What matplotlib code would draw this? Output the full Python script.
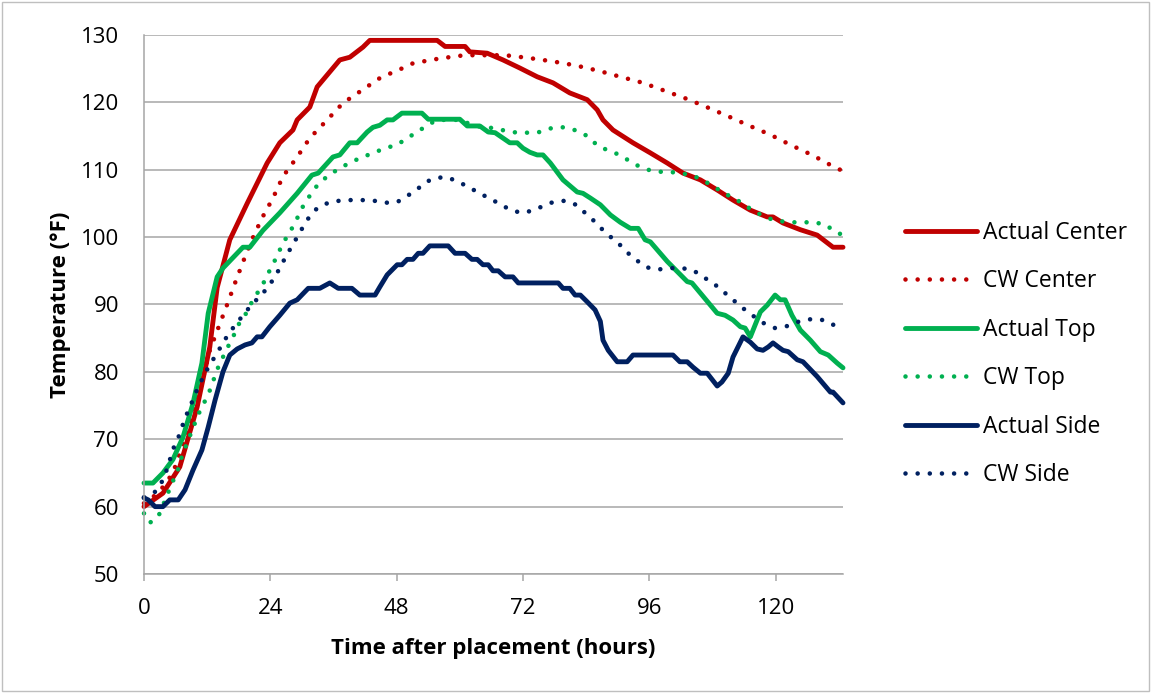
import matplotlib
matplotlib.use("Agg")
import matplotlib.pyplot as plt
from matplotlib.patches import Rectangle

plt.rcParams['font.family'] = ['Open Sans', 'DejaVu Sans']

# Measured temperatures and ConcreteWorks (CW) predictions, hours after placement vs °F
actual_center_h = [0, 3.6, 6.8, 10.1, 12.5, 13.9, 16.3, 19.6, 21.5, 23.4, 25.8, 28.3, 29.1, 31.5, 32.9,
                   37.2, 39.1, 41.6, 42.9, 55.7, 57.2, 61.0, 61.9, 65.2, 68.2, 71.4, 74.7, 77.7, 80.9,
                   84.2, 86.1, 87.2, 89.1, 92.9, 96.2, 99.4, 102.4, 105.7, 108.9, 111.9, 115.2, 118.4,
                   119.5, 121.4, 124.7, 127.9, 130.9, 132.8]
actual_center_t = [60, 62, 65.9, 74.8, 83.7, 92.5, 99.6, 105, 108, 111, 114, 115.9, 117.4, 119.3, 122.3,
                   126.3, 126.7, 128.2, 129.2, 129.2, 128.3, 128.3, 127.5, 127.3, 126.3, 125.1, 123.8,
                   122.9, 121.4, 120.4, 118.9, 117.4, 115.9, 114, 112.5, 111, 109.5, 108.5, 107, 105.5,
                   104, 103, 103, 102.1, 101.1, 100.3, 98.5, 98.5]

cw_center_h = [0, 1.7, 3.6, 5.5, 6.8, 7.8, 9.3, 10.6, 11.6, 12.5, 14.1, 15.8, 17.3, 18.8, 20.5, 22.4,
               24.5, 26.4, 29.1, 31.5, 34.8, 37.8, 41.4, 44.8, 47.1, 49.2, 51.1, 55.3, 59.7, 61.9, 68.6,
               73.0, 77.5, 81.9, 86.3, 90.5, 94.8, 99.0, 103.2, 107.2, 110.8, 114.8, 119.0, 122.8,
               126.9, 130.9, 132.8]
cw_center_t = [60.5, 61.4, 62.9, 65, 67.9, 69.9, 73.9, 77.3, 80.3, 83.2, 86.5, 90, 93.2, 96.3, 99.6,
               102.8, 105.8, 109, 111.9, 114.7, 117.4, 119.9, 121.8, 123.6, 124.4, 125.1, 125.8, 126.4,
               126.9, 127, 127, 126.6, 126.1, 125.5, 124.7, 123.8, 122.9, 121.7, 120.5, 119.2, 118,
               116.6, 115.2, 113.7, 112.2, 110.5, 109.8]

actual_top_h = [0, 1.7, 3.6, 5.5, 7.4, 9.3, 11.0, 12.2, 13.9, 15.0, 18.8, 20.1, 22.6, 25.8, 29.1, 31.9,
                33.1, 35.9, 37.2, 39.1, 40.5, 42.4, 43.5, 44.8, 46.2, 47.3, 49.0, 52.8, 54.0, 60.0, 61.4,
                63.8, 65.4, 66.7, 68.2, 69.5, 70.9, 72.0, 73.3, 74.7, 75.8, 77.2, 79.6, 82.3, 83.4, 84.8,
                86.7, 88.6, 90.5, 92.4, 93.9, 95.2, 96.2, 99.4, 103.2, 104.1, 108.9, 110.4, 111.9, 113.3,
                114.2, 115.2, 117.1, 118.4, 119.9, 120.9, 121.8, 123.1, 124.7, 126.6, 128.5, 130.0,
                131.7, 132.8]
actual_top_t = [63.5, 63.5, 65, 67, 70.3, 75.3, 81.3, 88.7, 94.1, 95.4, 98.5, 98.5, 101, 103.6, 106.5,
                109.2, 109.5, 111.9, 112.2, 114, 114, 115.6, 116.3, 116.6, 117.4, 117.4, 118.4, 118.4,
                117.5, 117.5, 116.5, 116.5, 115.6, 115.5, 114.7, 114, 114, 113.2, 112.6, 112.2, 112.2,
                111, 108.5, 106.7, 106.5, 105.8, 104.8, 103.3, 102.2, 101.3, 101.3, 99.6, 99.3, 96.4,
                93.4, 93.2, 88.7, 88.4, 87.7, 86.7, 86.5, 85.2, 88.9, 89.9, 91.4, 90.7, 90.7, 88.4, 86.2,
                84.7, 83, 82.5, 81.3, 80.6]

cw_top_h = [0, 1.1, 2.7, 4.4, 5.3, 6.3, 6.8, 8.4, 9.3, 10.1, 11.0, 12.0, 12.9, 13.5, 14.4, 15.4, 16.3,
            17.3, 18.2, 19.6, 20.5, 21.7, 23.0, 23.9, 24.9, 25.8, 26.8, 28.1, 29.1, 30.0, 31.2, 32.5,
            34.0, 35.7, 37.6, 39.5, 41.6, 43.9, 45.8, 48.1, 50.0, 51.9, 53.8, 55.7, 60.0, 61.9, 64.2,
            66.3, 68.6, 70.9, 73.0, 75.2, 77.5, 79.6, 81.5, 83.8, 86.5, 89.5, 91.4, 93.3, 95.2, 97.5,
            99.6, 101.9, 104.1, 106.0, 108.1, 109.8, 112.7, 114.6, 116.5, 118.6, 120.5, 122.8, 127.1,
            129.4, 131.3, 132.8]
cw_top_t = [59, 57.6, 58.5, 61.7, 63.5, 65, 66.6, 69.9, 71.6, 73.3, 74.8, 76.3, 78, 79.5, 81.3, 82.8,
            84.3, 85.8, 87.4, 88.9, 90.4, 91.9, 93.6, 95.1, 96.6, 98.1, 99.6, 101.3, 102.8, 104.3,
            105.8, 107.3, 108.5, 109.5, 110.4, 111.2, 111.9, 112.6, 113.2, 113.7, 114.7, 115.6, 116.6,
            117.4, 117.4, 116.8, 116.3, 116.2, 115.8, 115.5, 115.5, 115.6, 116.2, 116.3, 116, 115.2,
            113.4, 112.5, 111.7, 110.8, 110.1, 109.7, 109.7, 109.5, 109.2, 108.5, 107.6, 106.7, 105.5,
            104.5, 103.6, 102.8, 102.4, 102.2, 102.2, 101.9, 100.8, 100.3]

actual_side_h = [0, 0.8, 2.1, 3.6, 4.9, 6.5, 7.8, 9.3, 11.0, 12.2, 13.5, 15.0, 16.3, 17.7, 19.2, 20.5,
                 21.5, 22.4, 23.9, 25.8, 27.7, 29.1, 31.2, 33.4, 35.3, 36.9, 39.5, 41.0, 43.9, 44.8,
                 46.2, 48.1, 49.0, 50.0, 51.1, 52.1, 53.0, 54.3, 57.8, 59.1, 61.0, 62.3, 63.3, 64.4,
                 65.4, 66.3, 67.3, 68.6, 70.1, 71.1, 78.7, 79.6, 80.9, 81.9, 82.9, 84.2, 85.7, 86.7,
                 87.2, 88.2, 89.9, 91.8, 92.9, 100.5, 101.8, 103.2, 104.3, 105.7, 107.0, 108.9, 109.8,
                 111.0, 111.9, 113.8, 115.2, 116.5, 117.6, 118.6, 119.5, 120.5, 121.4, 122.4, 124.1,
                 125.2, 127.9, 130.4, 130.9, 132.8]
actual_side_t = [61.3, 61, 60, 60, 61, 61, 62.5, 65.4, 68.4, 71.8, 75.8, 80, 82.5, 83.4, 84, 84.3,
                 85.2, 85.2, 86.7, 88.4, 90.2, 90.7, 92.4, 92.4, 93.2, 92.4, 92.4, 91.4, 91.4, 92.6,
                 94.4, 95.9, 95.9, 96.7, 96.7, 97.6, 97.6, 98.7, 98.7, 97.6, 97.6, 96.7, 96.7, 95.9,
                 95.9, 95, 95, 94.1, 94.1, 93.2, 93.2, 92.4, 92.4, 91.4, 91.4, 90.4, 89.2, 87.5, 84.7,
                 83.2, 81.5, 81.5, 82.5, 82.5, 81.5, 81.5, 80.7, 79.8, 79.8, 77.9, 78.5, 79.8, 82.2,
                 85.2, 84.4, 83.4, 83.2, 83.7, 84.3, 83.7, 83.2, 83, 81.8, 81.5, 79.3, 77, 77, 75.4]

cw_side_h = [0, 2.1, 3.4, 4.2, 4.9, 5.5, 6.5, 7.2, 8.0, 8.9, 9.7, 10.6, 11.6, 12.7, 13.9, 15.0, 16.2,
             17.7, 19.0, 20.5, 22.0, 23.4, 24.7, 25.8, 26.8, 27.9, 29.1, 30.2, 31.4, 32.9, 35.0, 37.1,
             39.3, 41.4, 43.7, 45.8, 48.1, 50.0, 51.9, 53.6, 55.5, 57.6, 59.7, 61.8, 63.7, 65.6, 67.6,
             69.5, 71.6, 73.7, 75.8, 77.7, 80.0, 82.1, 83.8, 85.5, 87.0, 88.7, 90.5, 92.0, 93.7, 95.6,
             97.7, 99.9, 102.2, 104.3, 106.2, 108.1, 109.8, 112.5, 114.2, 116.1, 117.8, 119.9, 122.2,
             124.1, 126.4, 128.5, 130.6, 132.6]
cw_side_t = [61.4, 62.2, 63.7, 65.2, 66.9, 68.5, 70.2, 71.8, 73.5, 75.1, 76.7, 78.2, 79.8, 81.3, 82.8,
             84.3, 85.8, 87.3, 88.6, 90, 91.2, 92.4, 93.9, 95.4, 96.9, 98.4, 100, 101.5, 103, 104.3,
             105.1, 105.4, 105.5, 105.5, 105.4, 105.1, 105.2, 106.1, 107.1, 108.2, 108.8, 108.9, 108.2,
             107.4, 106.5, 105.8, 104.9, 104.1, 103.6, 103.9, 104.6, 105.2, 105.4, 104.8, 103.6, 102.4,
             101.2, 100, 98.8, 97.6, 96.5, 95.5, 95.2, 95.4, 95.4, 95.1, 94.1, 93.2, 92.1, 90.3, 89.2,
             88.1, 87.2, 86.5, 86.8, 87.4, 87.8, 87.8, 87.2, 86]

x_ticks = [0, 24, 48, 72, 96, 120]
y_ticks = [50, 60, 70, 80, 90, 100, 110, 120, 130]

RED = '#C00000'
GREEN = '#00B050'
NAVY = '#002060'
GRID = '#A6A6A6'

fig = plt.figure(figsize=(11.51, 6.93), dpi=100)
ax = fig.add_axes([144 / 1151, 1 - 574 / 693, (843 - 144) / 1151, (574 - 35) / 693])

solid = dict(linewidth=3.5, solid_joinstyle='round', solid_capstyle='round', clip_on=False)
dotted = dict(linewidth=3.3, linestyle=(0, (0.001, 2.65)), dash_capstyle='round', clip_on=False)

ax.plot(actual_center_h, actual_center_t, color=RED, label='Actual Center', **solid)
ax.plot(cw_center_h, cw_center_t, color=RED, label='CW Center', **dotted)
ax.plot(actual_top_h, actual_top_t, color=GREEN, label='Actual Top', **solid)
ax.plot(cw_top_h, cw_top_t, color=GREEN, label='CW Top', **dotted)
ax.plot(actual_side_h, actual_side_t, color=NAVY, label='Actual Side', **solid)
ax.plot(cw_side_h, cw_side_t, color=NAVY, label='CW Side', **dotted)

ax.set_xlim(0, 132.8)
ax.set_ylim(50, 130)
ax.set_xticks(x_ticks)
ax.set_yticks(y_ticks)
ax.yaxis.grid(True, color=GRID, linewidth=1.1)
ax.set_axisbelow(True)
for side in ('top', 'right'):
    ax.spines[side].set_visible(False)
for side in ('left', 'bottom'):
    ax.spines[side].set_color(GRID)
    ax.spines[side].set_linewidth(1.1)
ax.tick_params(axis='x', length=5, width=1.1, color=GRID, labelsize=16, pad=12, labelcolor='black')
ax.tick_params(axis='y', length=0, labelsize=16, pad=18, labelcolor='black')

ax.set_xlabel('Time after placement (hours)', fontsize=16, fontweight='bold', labelpad=14)
ax.set_ylabel('Temperature (°F)', fontsize=16, fontweight='bold', labelpad=7)

leg = ax.legend(loc='center left', bbox_to_anchor=(905 / 1151, 1 - 354 / 693),
                bbox_transform=fig.transFigure, frameon=False, fontsize=16.5,
                handlelength=3.15, handletextpad=0.27, labelspacing=1.07,
                borderpad=0, borderaxespad=0)

fig.patches.append(Rectangle((0.002, 0.003), 0.996, 0.994, transform=fig.transFigure,
                             fill=False, edgecolor='#BFBFBF', linewidth=1.0))

fig.savefig('out.png', dpi=100, facecolor='white')
